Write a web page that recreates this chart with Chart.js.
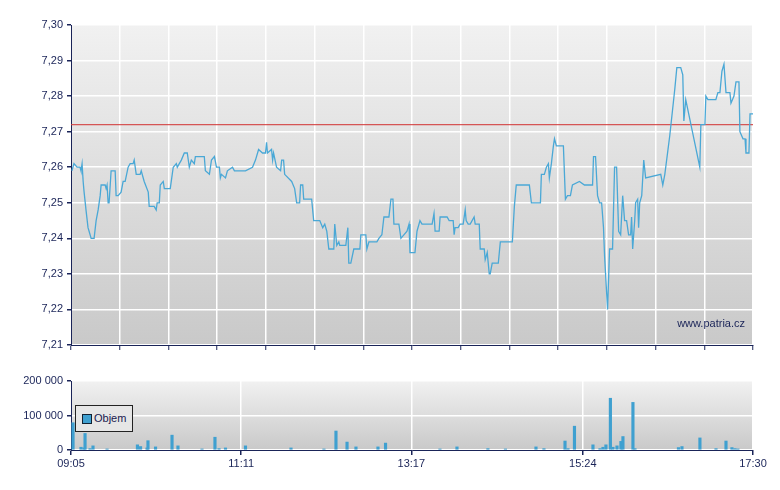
<!DOCTYPE html>
<html><head><meta charset="utf-8">
<script src="https://cdn.jsdelivr.net/npm/chart.js@4"></script>
<style>
body{margin:0;background:#fff;width:780px;height:490px;position:relative;overflow:hidden;font-family:"Liberation Sans",Arial,sans-serif}
canvas{position:absolute;left:0}
#leg{position:absolute;left:75px;top:405px;width:58px;height:27px;border:1px solid #222;background:#e6e6e6;font-size:11px;color:#1a2050;box-sizing:border-box}
#leg span.sq{position:absolute;left:6px;top:8px;width:8px;height:8px;background:#3fa0d0;border:1px solid #123}
#leg span.t{position:absolute;left:18px;top:6px}
</style></head><body>
<div style="position:absolute;left:0;top:0;width:780px;height:360px"><canvas id="c1"></canvas></div>
<div style="position:absolute;left:0;top:370px;width:780px;height:120px"><canvas id="c2"></canvas></div>
<div id="leg"><span class="sq"></span><span class="t">Objem</span></div>
<script>
// [minutes since 09:05, price]
const pricePoints=[[0.7,7.259],[2.2,7.261],[4.5,7.260],[6.7,7.260],[7.4,7.259],[8.2,7.261],[9.0,7.256],[9.7,7.253],[11.1,7.248],[12.6,7.243],[13.4,7.242],[14.9,7.240],[17.1,7.240],[18.6,7.245],[20.1,7.248],[21.6,7.252],[22.3,7.255],[25.3,7.255],[26.0,7.254],[26.7,7.255],[27.5,7.250],[28.2,7.250],[29.7,7.259],[32.7,7.259],[33.4,7.252],[34.9,7.252],[37.1,7.253],[38.6,7.256],[40.1,7.256],[42.3,7.260],[43.8,7.261],[46.0,7.261],[46.8,7.262],[48.3,7.258],[51.2,7.258],[52.0,7.259],[54.2,7.256],[57.2,7.253],[57.9,7.249],[61.6,7.249],[63.1,7.248],[63.8,7.250],[65.4,7.250],[66.1,7.255],[68.3,7.256],[69.1,7.254],[73.5,7.254],[75.7,7.260],[78.0,7.261],[78.7,7.260],[80.2,7.261],[81.7,7.262],[83.9,7.264],[86.1,7.264],[87.6,7.260],[89.1,7.262],[91.3,7.261],[92.1,7.263],[98.7,7.263],[99.5,7.259],[102.5,7.258],[104.0,7.262],[106.2,7.263],[107.7,7.260],[109.9,7.260],[110.6,7.257],[111.4,7.258],[114.4,7.257],[115.8,7.259],[119.6,7.260],[121.0,7.259],[124.0,7.259],[129.2,7.259],[134.4,7.260],[136.6,7.262],[138.9,7.265],[141.8,7.264],[144.0,7.264],[144.8,7.267],[145.5,7.264],[148.5,7.265],[149.3,7.262],[150.0,7.264],[152.2,7.260],[155.2,7.259],[156.0,7.262],[157.4,7.262],[158.2,7.258],[163.4,7.256],
[165.6,7.254],[167.1,7.250],[169.3,7.250],[170.0,7.255],[171.6,7.255],[172.3,7.251],[178.2,7.251],[179.7,7.245],[184.2,7.245],[186.4,7.243],[187.9,7.244],[189.4,7.242],[190.9,7.237],[194.6,7.237],[195.3,7.244],[196.8,7.238],[198.3,7.239],[199.0,7.238],[203.5,7.238],[205.0,7.243],[205.7,7.233],[207.2,7.233],[209.4,7.237],[213.9,7.237],[214.6,7.241],[218.3,7.241],[219.1,7.237],[220.6,7.239],[226.5,7.239],[228.0,7.240],[230.2,7.241],[231.7,7.246],[235.4,7.246],[236.9,7.251],[238.4,7.251],[239.1,7.244],[242.8,7.244],[244.3,7.240],[248.8,7.242],[250.3,7.244],[251.0,7.236],[254.7,7.236],[256.2,7.242],[258.4,7.245],[259.9,7.244],[267.4,7.244],[268.8,7.247],[269.6,7.242],[272.6,7.242],[273.3,7.246],[278.5,7.246],[280.0,7.245],[283.0,7.245],[283.7,7.241],[284.4,7.243],[286.7,7.243],[288.1,7.244],[290.4,7.244],[291.9,7.248],[292.6,7.245],[294.1,7.244],[295.6,7.244],[298.5,7.246],[299.3,7.244],[302.3,7.244],[303.0,7.237],[306.0,7.237],[306.7,7.234],[308.2,7.236],[309.7,7.230],[310.4,7.230],[311.9,7.233],[316.4,7.233],[317.9,7.239],[326.8,7.239],[328.3,7.249],[329.7,7.255],[339.4,7.255],[340.9,7.250],[347.6,7.250],[348.3,7.258],
[350.5,7.258],[352.0,7.260],[353.5,7.261],[354.2,7.257],[355.7,7.261],[357.2,7.266],[358.0,7.268],[359.4,7.266],[364.6,7.266],[366.1,7.251],[367.6,7.252],[369.8,7.252],[371.3,7.255],[376.5,7.256],[380.2,7.255],[386.2,7.255],[386.9,7.263],[388.4,7.263],[389.9,7.252],[391.4,7.250],[392.9,7.250],[394.3,7.243],[395.1,7.235],[397.3,7.220],[398.8,7.237],[401.0,7.237],[402.5,7.260],[404.0,7.260],[405.5,7.242],[407.0,7.241],[408.5,7.252],[409.9,7.245],[411.4,7.245],[412.9,7.241],[414.4,7.241],[415.1,7.246],[415.9,7.237],[417.4,7.245],[418.1,7.250],[419.6,7.251],[420.3,7.243],[421.1,7.250],[422.6,7.252],[424.1,7.262],[425.5,7.257],[436.7,7.258],[438.2,7.255],[439.7,7.258],[443.4,7.269],[447.1,7.282],[448.6,7.288],[451.5,7.288],[453.0,7.286],[453.8,7.273],[455.2,7.279],[465.6,7.260],[466.4,7.272],[469.4,7.272],[470.1,7.280],[471.6,7.279],[477.5,7.279],[479.0,7.281],[480.5,7.281],[482.0,7.287],[483.5,7.289],[485.0,7.281],[487.9,7.281],[488.7,7.278],[490.9,7.280],[492.4,7.284],[494.6,7.284],[495.3,7.270],[497.6,7.268],[499.1,7.268],[499.8,7.264],[502.0,7.264],[502.8,7.275],[505.0,7.275]];
const refPrice=7.272;
const volTimes=[1.5,7.4,9.6,10.4,14.1,16.3,26.7,49.2,51.5,56.3,57.0,62.6,74.8,79.2,97.0,106.6,109.6,114.4,129.2,162.9,187.3,196.2,204.4,211.0,227.3,232.9,273.2,285.8,308.7,321.7,344.3,350.2,365.8,368.0,372.8,386.5,391.7,393.9,396.1,399.4,401.3,404.3,407.2,408.7,416.1,417.6,449.8,452.4,465.7,477.6,485.0,489.4,491.6,493.8];
const volValues=[79000,8000,6000,48000,4000,12000,3000,15000,10000,6000,27000,9000,43000,12000,3000,37000,4000,6000,12000,6000,3000,55000,23000,9000,9000,20000,3000,9000,4000,3000,9000,4000,26000,4000,69000,15000,4000,8000,15000,150000,8000,12000,25000,39000,138000,4000,7000,10000,35000,4000,26000,7000,4000,3000];
const timeLabels=['09:05','11:11','13:17','15:24','17:30'];
const labelMinutes=[0,126,252,379,505];
const yTicks=[7.21,7.22,7.23,7.24,7.25,7.26,7.27,7.28,7.29,7.30];
const TOTAL=505;

const NAVY='#1a2458';
const font={family:'"Liberation Sans",Arial,sans-serif',size:11};
const bg={id:'bg',beforeDraw(c){const a=c.chartArea,x=c.ctx;const g=x.createLinearGradient(0,a.top,0,a.bottom);g.addColorStop(0,'#f1f1f1');g.addColorStop(1,'#c9c9c9');x.save();x.fillStyle=g;x.fillRect(a.left,a.top,a.right-a.left,a.bottom-a.top);x.restore();}};
const wm={id:'wm',afterDraw(c){const a=c.chartArea,x=c.ctx;x.save();x.font='11px "Liberation Sans",Arial';x.fillStyle=NAVY;x.textAlign='right';x.fillText('www.patria.cz',a.right-8,a.bottom-18);x.restore();}};

new Chart(document.getElementById('c1'),{
 type:'line',
 data:{datasets:[
  {data:pricePoints.map(p=>({x:p[0],y:p[1]})),borderColor:'#4aa8d6',borderWidth:1.3,pointRadius:0,tension:0},
  {data:[{x:0,y:refPrice},{x:TOTAL,y:refPrice}],borderColor:'rgba(210,60,60,0.85)',borderWidth:1.2,pointRadius:0}
 ]},
 plugins:[bg,wm],
 options:{responsive:true,maintainAspectRatio:false,animation:false,
  layout:{padding:{top:25,right:27,left:0,bottom:0}},
  plugins:{legend:{display:false},tooltip:{enabled:false}},
  scales:{
   x:{type:'linear',min:0,max:TOTAL,
     afterBuildTicks(s){const t=[];for(let i=0;i<=14;i++)t.push({value:i*TOTAL/14});s.ticks=t;},
     ticks:{display:false},
     grid:{color:'#fff',lineWidth:1.5,tickLength:5,tickColor:NAVY,tickWidth:1},
     border:{color:NAVY,width:1},
     afterFit(s){s.height=15;}},
   y:{min:7.21,max:7.30,
     afterBuildTicks(s){s.ticks=yTicks.map(v=>({value:v}));},
     ticks:{color:NAVY,font,padding:4,callback:v=>v.toFixed(2).replace('.',',')},
     grid:{color:'#fff',lineWidth:1.5,tickLength:4,tickColor:NAVY},
     border:{color:NAVY,width:1},
     afterFit(s){s.width=71;}}
  }}
});

new Chart(document.getElementById('c2'),{
 type:'bar',
 data:{datasets:[{data:volTimes.map((t,i)=>({x:t,y:volValues[i]})),backgroundColor:'#3fa0d0',barThickness:2.5}]},
 plugins:[bg],
 options:{responsive:true,maintainAspectRatio:false,animation:false,
  layout:{padding:{top:11,right:27,left:0,bottom:0}},
  plugins:{legend:{display:false},tooltip:{enabled:false}},
  scales:{
   x:{type:'linear',min:0,max:TOTAL,offset:false,
     afterBuildTicks(s){s.ticks=labelMinutes.map(v=>({value:v}));},
     ticks:{color:NAVY,font,maxRotation:0,autoSkip:false,padding:2,callback:(v,i)=>timeLabels[i]},
     grid:{color:'#fff',lineWidth:1.5,tickLength:5,tickColor:NAVY,offset:false},
     border:{color:NAVY,width:1},
     afterFit(s){s.height=40;}},
   y:{min:0,max:200000,
     afterBuildTicks(s){s.ticks=[0,100000,200000].map(v=>({value:v}));},
     ticks:{color:NAVY,font,padding:4,callback:v=>v===0?'0':v.toLocaleString('en').replace(/,/g,' ')},
     grid:{color:'#fff',lineWidth:1.5,tickLength:4,tickColor:NAVY},
     border:{color:NAVY,width:1},
     afterFit(s){s.width=71;}}
  }}
});
</script></body></html>
